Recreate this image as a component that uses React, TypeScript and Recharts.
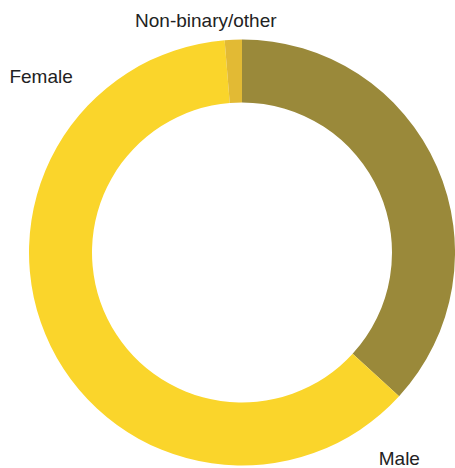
import { PieChart, Pie, Cell } from 'recharts';

const categories = ['Male', 'Female', 'Non-binary/other'];
const shares = [36.8, 61.9, 1.3];
const colors = ['#9A893A', '#FAD52B', '#E2BA34'];

const data = categories.map((name, i) => ({ name, value: shares[i] }));

// label placement: angle (deg, counter-clockwise from 3 o'clock) and distance beyond the outer edge
const labelPlacement: Record<string, { angle: number; extra: number }> = {
  Male: { angle: -53.5, extra: 51.5 },
  Female: { angle: 139.8, extra: 50 },
  'Non-binary/other': { angle: 99.1, extra: 15.7 },
};

const RAD = Math.PI / 180;

function renderLabel(props: any) {
  const { cx, cy, outerRadius, name } = props;
  const p = labelPlacement[name];
  if (!p) return null;
  const r = outerRadius + p.extra;
  const x = cx + r * Math.cos(-p.angle * RAD);
  const y = cy + r * Math.sin(-p.angle * RAD);
  return (
    <text
      x={x}
      y={y}
      textAnchor="middle"
      fill="#222"
      style={{ fontFamily: '"Liberation Sans", Arial, sans-serif', fontSize: 19 }}
    >
      {name}
    </text>
  );
}

export default function App() {
  return (
    <div style={{ position: 'absolute', left: 0, top: 0, width: 455, height: 468, background: '#fff' }}>
      <PieChart width={455} height={468} margin={{ top: 0, right: 0, bottom: 0, left: 0 }}>
        <Pie
          data={data}
          dataKey="value"
          nameKey="name"
          cx={242}
          cy={252.5}
          innerRadius={150}
          outerRadius={213}
          startAngle={90}
          endAngle={-270}
          stroke="none"
          label={renderLabel}
          labelLine={false}
          isAnimationActive={false}
        >
          {data.map((d, i) => (
            <Cell key={d.name} fill={colors[i]} />
          ))}
        </Pie>
      </PieChart>
    </div>
  );
}
